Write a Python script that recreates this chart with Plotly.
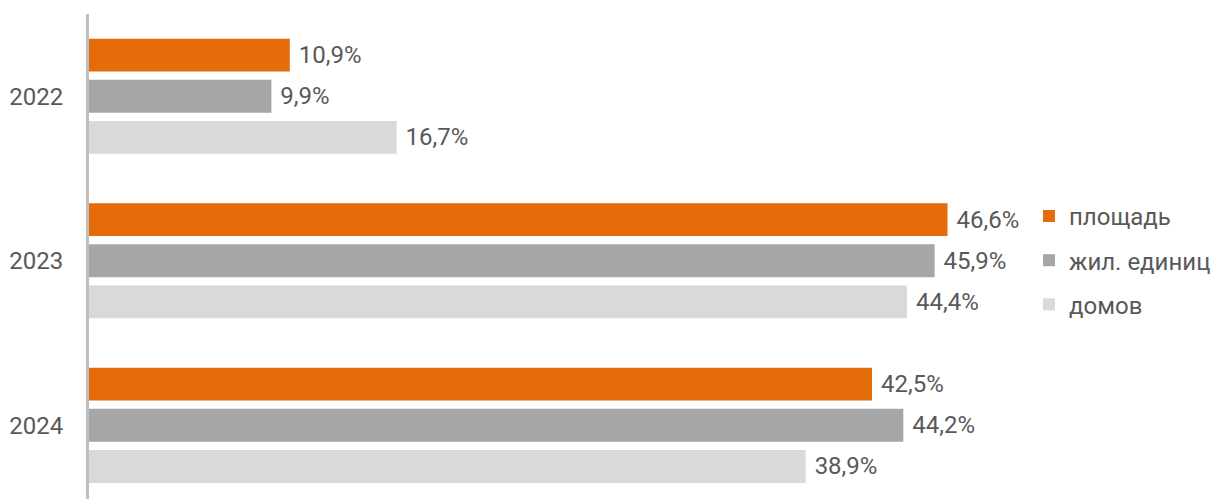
import plotly.graph_objects as go

years = ["2022", "2023", "2024"]
series_names = ["площадь", "жил. единиц", "домов"]
area = [10.9, 46.6, 42.5]
units = [9.9, 45.9, 44.2]
houses = [16.7, 44.4, 38.9]
colors = ["#E46C0A", "#A6A6A6", "#D9D9D9"]

W, H = 1216, 499
ML, MR, MT, MB = 89, 0, 14, 0
plot_w = W - ML - MR
px_per_unit = 18.44
xmax = plot_w / px_per_unit
legend_left_px = 1030
legend_x = (legend_left_px - ML) / plot_w

fig = go.Figure()
for i, (name, vals) in enumerate(zip(series_names, [area, units, houses])):
    fig.add_trace(go.Bar(
        y=years, x=vals, name=name, orientation="h",
        marker=dict(color=colors[i], line=dict(width=0)),
        texttemplate="\u00a0%{x:.1f}%", textposition="outside",
        textfont=dict(size=24, color="#595959", family="Roboto"),
        cliponaxis=False, constraintext="none",
        legendgroup=name, hoverinfo="skip",
    ))

fig.update_layout(
    width=W, height=H,
    margin=dict(l=ML, r=MR, t=MT, b=MB, pad=0),
    barmode="group", bargap=0.25, bargroupgap=0.2,
    separators=", ",
    plot_bgcolor="white", paper_bgcolor="white",
    font=dict(family="Roboto", size=24, color="#595959"),
    legend=dict(
        x=legend_x, xanchor="left", y=0.492, yanchor="middle",
        font=dict(size=24, color="#595959", family="Roboto"),
        traceorder="grouped", tracegroupgap=10,
        bgcolor="rgba(0,0,0,0)", borderwidth=0,
    ),
    xaxis=dict(range=[0, xmax], showgrid=False, zeroline=False,
               showticklabels=False, showline=False, fixedrange=True),
    yaxis=dict(type="category", categoryorder="array", categoryarray=years,
               range=[2.448, -0.5], showgrid=False, zeroline=False,
               showline=True, linecolor="#BFBFBF", linewidth=3,
               ticks="", ticklabelstandoff=18, fixedrange=True,
               tickfont=dict(size=24, color="#595959", family="Roboto")),
)

fig.write_html(
    "out.html",
    config={"displayModeBar": False},
    post_script="document.body.style.margin='0';document.body.style.overflow='hidden';",
)
